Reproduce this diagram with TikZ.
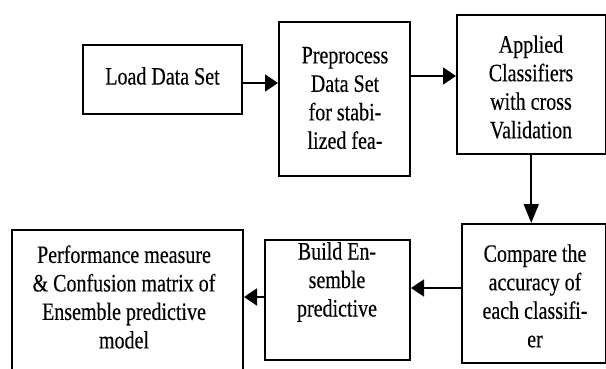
\documentclass[tikz,border=0pt]{standalone}
\usepackage{fontspec}
\setmainfont{Liberation Serif}
\newfontfamily\boxfont[FakeStretch=0.8,FakeBold=0.3]{Liberation Serif}
\usetikzlibrary{arrows.meta}
\begin{document}
\begin{tikzpicture}[x=1pt,y=-1pt,
  box/.style={draw=black,line width=2pt,rectangle,inner sep=0pt},
  lbl/.style={align=center,inner sep=0pt,font=\boxfont\fontsize{25}{28.5}\selectfont},
  harr/.style={line width=1.8pt,-{Triangle[length=13pt,width=17pt]}},
  varr/.style={line width=1.8pt,-{Triangle[length=19pt,width=15pt]}}]
\clip (0,0) rectangle (606,369);
\fill[white] (0,0) rectangle (606,369);
% process boxes
\node[box,minimum width=159pt,minimum height=69pt]    (load) at (162.5,79.5) {};
\node[box,minimum width=131pt,minimum height=154pt]   (pre)  at (344.5,99) {};
\node[box,minimum width=148.5pt,minimum height=139pt] (app)  at (531.25,84.5) {};
\node[box,minimum width=143.5pt,minimum height=139pt] (cmp)  at (533.75,293.5) {};
\node[box,minimum width=145pt,minimum height=120pt]   (bld)  at (337.5,300) {};
\node[box,minimum width=231.4pt,minimum height=150pt] (perf) at (127.3,305) {};
% box texts
\node[lbl] (tload) at (162.5,76) {Load Data Set};
\node[lbl] (tpre)  at (345,98) {Preprocess\\Data Set\\for stabi-\\lized fea-};
\node[lbl] (tapp)  at (531,87) {Applied\\Classifiers\\with cross\\Validation};
\node[lbl] (tcmp)  at (535,296) {Compare the\\accuracy of\\each classifi-\\er};
\node[lbl] (tbld)  at (337,282) {Build En-\\semble\\predictive};
\node[lbl] (tperf) at (124,297) {Performance measure\\\& Confusion matrix of\\Ensemble predictive\\model};
% flow arrows
\draw[harr] ([yshift=-3.5pt]load.east) -- ([yshift=-3.5pt]load.east -| pre.west);
\draw[harr] ([yshift=8.5pt]app.west -| pre.east) -- ([yshift=8.5pt]app.west);
\draw[varr] (app.south) -- (app.south |- cmp.north);
\draw[harr] ([yshift=5.5pt]cmp.west) -- ([yshift=5.5pt]cmp.west -| bld.east);
\draw[harr] ([yshift=3pt]bld.west) -- ([yshift=3pt]bld.west -| perf.east);
\end{tikzpicture}
\end{document}
